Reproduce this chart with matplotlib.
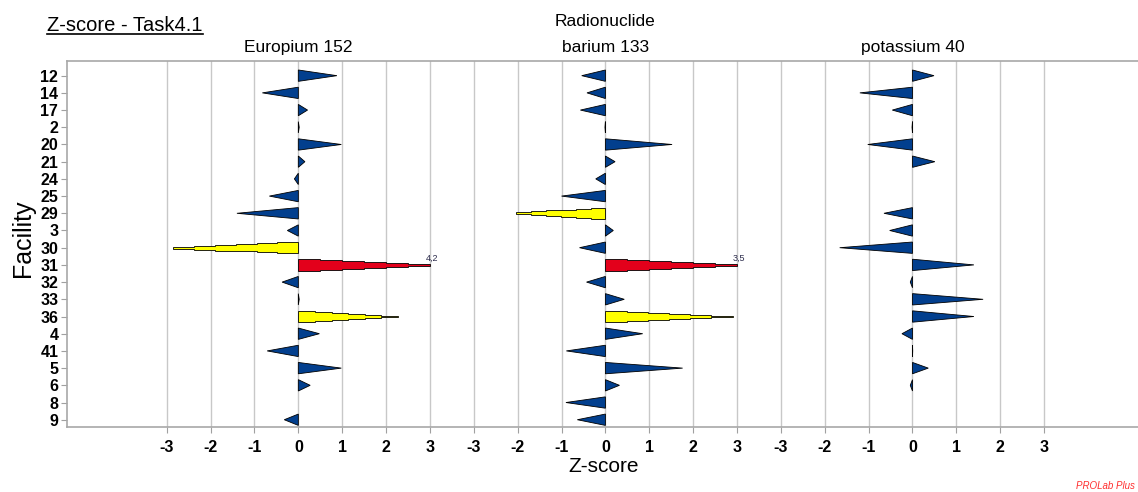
import matplotlib
matplotlib.use("Agg")
import matplotlib.pyplot as plt
import numpy as np
from matplotlib.patches import Polygon
from matplotlib.lines import Line2D

plt.rcParams["font.family"] = ["Liberation Sans", "DejaVu Sans"]

facilities = ["12", "14", "17", "2", "20", "21", "24", "25", "29", "3", "30",
              "31", "32", "33", "36", "4", "41", "5", "6", "8", "9"]
nuclides = ["Europium 152", "barium 133", "potassium 40"]

europium = [0.88, -0.82, 0.21, 0.02, 0.98, 0.15, -0.09, -0.66, -1.40, -0.25, -2.86,
            4.2, -0.37, 0.02, 2.27, 0.48, -0.71, 0.98, 0.27, np.nan, -0.32]
barium = [-0.54, -0.42, -0.57, -0.01, 1.52, 0.22, -0.22, -1.00, -2.03, 0.18, -0.59,
          3.5, -0.43, 0.43, 2.90, 0.85, -0.89, 1.76, 0.32, -0.90, -0.64]
potassium = [0.49, -1.20, -0.46, -0.01, -1.02, 0.51, np.nan, np.nan, -0.65, -0.52, -1.66,
             1.40, -0.05, 1.61, 1.40, -0.24, 0.005, 0.36, -0.05, np.nan, np.nan]

ticks = [-3, -2, -1, 0, 1, 2, 3]
panel_gap = 7
half = 0.33

BLUE = "#023F8E"
YELLOW = "#FFFF00"
RED = "#E3001B"


def triangle(x0, v, y):
    return [(x0, y - half), (x0 + v, y), (x0, y + half)]


def stepped(x0, v, y, n=6):
    # staircase approximation of a triangle, top and bottom symmetric
    top, bot = [], []
    for k in range(n):
        h = half * max(1 - k / n, 0.06)
        xa, xb = x0 + v * k / n, x0 + v * (k + 1) / n
        top += [(xa, y - h), (xb, y - h)]
        bot += [(xa, y + h), (xb, y + h)]
    return top + bot[::-1]


fig = plt.figure(figsize=(11.38, 4.92), dpi=100)
ax = fig.add_axes([66.7 / 1138, 1 - 427.3 / 492, 1 - 66.7 / 1138 + 0.01, 366.6 / 492])

ax.set_xlim(-5.28, 19.4)
ax.set_ylim(20.44, -0.87)

xt, xl = [], []
for p in range(3):
    for t in ticks:
        xt.append(p * panel_gap + t)
        xl.append(str(t))
ax.set_xticks(xt)
ax.set_xticklabels(xl)
ax.set_yticks(range(len(facilities)))
ax.set_yticklabels(facilities)
for lab in ax.get_xticklabels() + ax.get_yticklabels():
    lab.set_fontweight("bold")
    lab.set_fontsize(11.5)
ax.tick_params(axis="both", length=4, width=0.8, color="#A0A0A0", pad=2)
ax.tick_params(axis="x", pad=5)
for pos in ax.get_xticks():
    ax.axvline(pos, color="#C8C8C8", lw=1.0, zorder=0)
for s in ["left", "top", "bottom"]:
    ax.spines[s].set_color("#A8A8A8")
    ax.spines[s].set_linewidth(1.2)
ax.spines["right"].set_visible(False)

for p, values in enumerate([europium, barium, potassium]):
    x0 = p * panel_gap
    for i, v in enumerate(values):
        if np.isnan(v):
            continue
        a = abs(v)
        vd = np.sign(v) * min(a, 3.0)
        if a < 2:
            shape = triangle(x0, vd, i)
            color = BLUE
        else:
            shape = stepped(x0, vd, i)
            color = YELLOW if a < 3 else RED
        ax.add_patch(Polygon(shape, closed=True, facecolor=color,
                             edgecolor="black", lw=0.6, zorder=3))
        if a >= 3:
            ax.text(x0 + 2.9, i - 0.12, f"{v:.1f}".replace(".", ","),
                    fontsize=6.5, color="#2B2B4B", ha="left", va="bottom")
    ax.text(x0, 1.035, nuclides[p], transform=ax.get_xaxis_transform(),
            ha="center", va="center", fontsize=12.5)

ax.text(7, 1.106, "Radionuclide", transform=ax.get_xaxis_transform(),
        ha="center", va="center", fontsize=12.5)

title = fig.text(47 / 1138, 1 - 31 / 492, "Z-score - Task4.1", fontsize=14.5,
                 ha="left", va="baseline")
fig.canvas.draw()
bb = title.get_window_extent()
uy = 1 - 33.5 / 492
fig.add_artist(Line2D([bb.x0 / 1138, bb.x1 / 1138], [uy, uy],
                      transform=fig.transFigure, color="black", lw=1.2))

fig.text(23 / 1138, 1 - 238 / 492, "Facility", rotation=90, fontsize=18,
         ha="center", va="center")
fig.text(604 / 1138, 1 - 466 / 492, "Z-score", fontsize=15, ha="center", va="center")
fig.text(1135 / 1138, 1 - 489 / 492, "PROLab Plus", fontsize=7, style="italic",
         color="#FF3030", ha="right", va="baseline")

fig.savefig("out.png", dpi=100)
